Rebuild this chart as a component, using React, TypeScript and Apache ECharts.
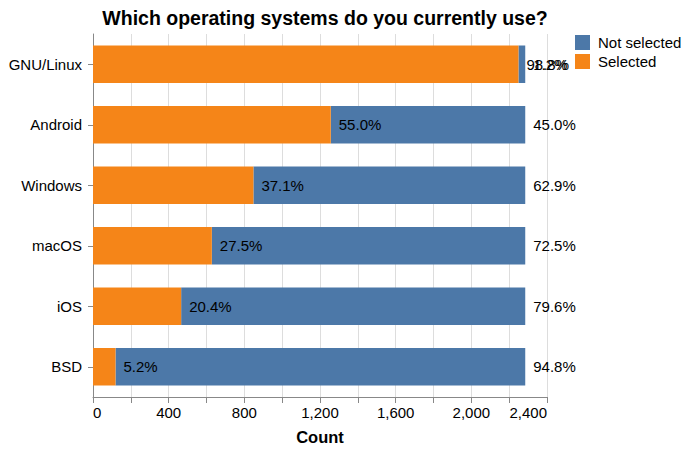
import React, { useEffect, useRef } from "react";
import * as echarts from "echarts";

const categories = ["GNU/Linux", "Android", "Windows", "macOS", "iOS", "BSD"];
const selectedCounts = [2249, 1257, 848, 628, 466, 119];
const notSelectedCounts = [36, 1028, 1437, 1657, 1819, 2166];
const selectedPct = ["98.8%", "55.0%", "37.1%", "27.5%", "20.4%", "5.2%"];
const notSelectedPct = ["1.2%", "45.0%", "62.9%", "72.5%", "79.6%", "94.8%"];
const xTicks = [0, 400, 800, 1200, 1600, 2000, 2400];

const FONT = "'Liberation Sans', Arial, sans-serif";
const ORANGE = "#f58518";
const BLUE = "#4c78a8";

export default function App() {
  const ref = useRef<HTMLDivElement>(null);
  useEffect(() => {
    const chart = echarts.init(ref.current!, null, { renderer: "svg" });
    chart.setOption({
      animation: false,
      textStyle: { fontFamily: FONT },
      title: {
        text: "Which operating systems do you currently use?",
        left: 320,
        textAlign: "center",
        top: 3,
        textStyle: { fontFamily: FONT, fontSize: 19.5, fontWeight: "bold", color: "#000" },
      },
      legend: {
        orient: "vertical",
        left: 575,
        top: 35,
        padding: 0,
        itemWidth: 15,
        itemHeight: 15,
        itemGap: 4,
        icon: "rect",
        data: ["Not selected", "Selected"],
        textStyle: { fontFamily: FONT, fontSize: 15, color: "#000", padding: [0, 0, 0, 3] },
      },
      grid: { left: 93, right: 143, top: 34, bottom: 55, containLabel: false },
      xAxis: {
        type: "value",
        min: 0,
        max: 2400,
        interval: 200,
        name: "Count",
        nameLocation: "middle",
        nameGap: 31,
        nameTextStyle: { fontFamily: FONT, fontSize: 16.5, fontWeight: "bold", color: "#000" },
        axisLine: { show: true, lineStyle: { color: "#888", width: 1 } },
        axisTick: { show: true, length: 6, lineStyle: { color: "#888" } },
        splitLine: { show: true, lineStyle: { color: "#ddd", width: 1 } },
        axisLabel: {
          margin: 8,
          fontFamily: FONT,
          fontSize: 15,
          color: "#000",
          alignMinLabel: "left",
          alignMaxLabel: "right",
          formatter: (v: number) => (xTicks.includes(v) ? v.toLocaleString("en-US") : ""),
        },
      },
      yAxis: {
        type: "category",
        data: categories,
        inverse: true,
        axisLine: { show: true, lineStyle: { color: "#888", width: 1 } },
        axisTick: { show: true, alignWithLabel: true, length: 5, lineStyle: { color: "#888" } },
        splitLine: { show: false },
        axisLabel: { margin: 11, fontFamily: FONT, fontSize: 15, color: "#000" },
      },
      series: [
        {
          name: "Selected",
          type: "bar",
          stack: "total",
          z: 3,
          barCategoryGap: "38%",
          itemStyle: { color: ORANGE },
          data: selectedCounts,
          label: {
            show: true,
            position: "right",
            distance: 8,
            fontFamily: FONT,
            fontSize: 15,
            color: "#000",
            formatter: (p: any) => selectedPct[p.dataIndex],
          },
        },
        {
          name: "Not selected",
          type: "bar",
          stack: "total",
          z: 2,
          barCategoryGap: "38%",
          itemStyle: { color: BLUE },
          data: notSelectedCounts,
          label: {
            show: true,
            position: "right",
            distance: 8,
            fontFamily: FONT,
            fontSize: 15,
            color: "#000",
            formatter: (p: any) => notSelectedPct[p.dataIndex],
          },
        },
      ],
    });
    return () => chart.dispose();
  }, []);
  return (
    <div
      ref={ref}
      style={{ position: "fixed", left: 0, top: 0, width: 690, height: 452, background: "#fff" }}
    />
  );
}
